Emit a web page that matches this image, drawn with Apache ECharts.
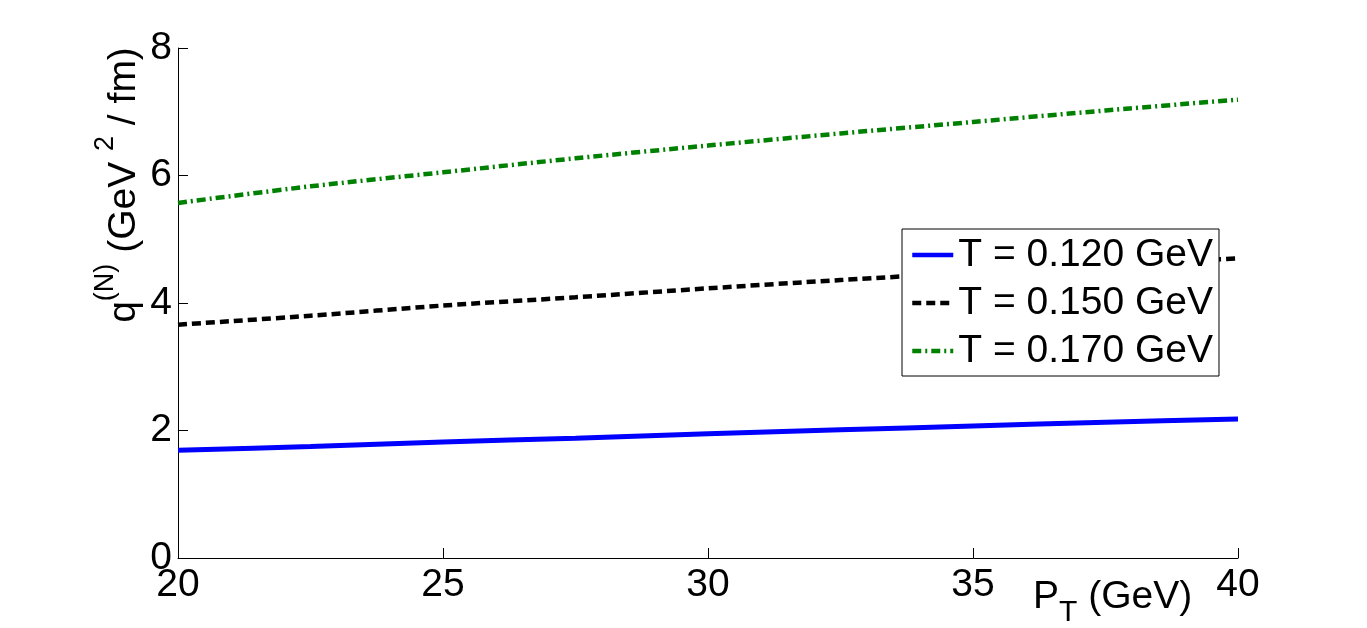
<!DOCTYPE html>
<html>
<head>
<meta charset="utf-8">
<script src="https://cdn.jsdelivr.net/npm/echarts@6/dist/echarts.min.js"></script>
<style>
  html, body { margin: 0; padding: 0; background: #fff; }
  #main { width: 1367px; height: 628px; }
</style>
</head>
<body>
<div id="main"></div>
<script>
// P_T values (GeV) where the curves are sampled
const pT = [20, 22.5, 25, 27.5, 30, 32.5, 35, 37.5, 40];
// q^(N) values for each temperature
const q120 = [1.69, 1.75, 1.82, 1.88, 1.95, 2.01, 2.07, 2.13, 2.18];
const q150 = [3.66, 3.80, 3.96, 4.09, 4.23, 4.36, 4.48, 4.60, 4.70];
const q170 = [5.57, 5.83, 6.05, 6.27, 6.47, 6.66, 6.84, 7.02, 7.19];
const names = ['T = 0.120 GeV', 'T = 0.150 GeV', 'T = 0.170 GeV'];
const xTicks = [20, 25, 30, 35, 40];
const yTicks = [0, 2, 4, 6, 8];

const font = 'Liberation Sans, Arial, sans-serif';

function pairs(ys) {
  return pT.map(function (x, i) { return [x, ys[i]]; });
}

let myChart = echarts.init(document.getElementById('main'));
myChart.setOption({
  animation: false,
  backgroundColor: '#fff',
  textStyle: { fontFamily: font },
  grid: { left: 178, right: 129, top: 48, bottom: 70, containLabel: false },
  xAxis: {
    type: 'value',
    min: xTicks[0],
    max: xTicks[xTicks.length - 1],
    interval: xTicks[1] - xTicks[0],
    axisLine: { lineStyle: { color: '#000', width: 1 } },
    axisTick: { inside: true, length: 10, lineStyle: { color: '#000' } },
    splitLine: { show: false },
    axisLabel: { color: '#000', fontSize: 39, fontFamily: font, margin: 8 }
  },
  yAxis: {
    type: 'value',
    min: yTicks[0],
    max: yTicks[yTicks.length - 1],
    interval: yTicks[1] - yTicks[0],
    axisLine: { show: true, lineStyle: { color: '#000', width: 1 } },
    axisTick: { show: true, inside: true, length: 10, lineStyle: { color: '#000' } },
    splitLine: { show: false },
    axisLabel: { color: '#000', fontSize: 39, fontFamily: font, margin: 6 }
  },
  legend: {
    orient: 'vertical',
    left: 902,
    top: 229,
    padding: [6, 6, 5, 8],
    itemWidth: 41,
    itemHeight: 20,
    itemGap: 8,
    borderColor: '#000',
    borderWidth: 1,
    borderRadius: 0,
    backgroundColor: '#fff',
    itemStyle: { color: 'transparent', borderWidth: 0, opacity: 0 },
    lineStyle: { width: 4.5 },
    textStyle: { color: '#000', fontSize: 39, fontFamily: font, lineHeight: 40 },
    data: names
  },
  graphic: [
    {
      type: 'text',
      x: 118,
      y: 185,
      rotation: Math.PI / 2,
      style: {
        text: '{m|q}{s|(N)}{m| (GeV }{s|2}{m| / fm)}',
        align: 'center',
        verticalAlign: 'middle',
        fill: '#000',
        rich: {
          m: { fontSize: 39, fontFamily: font, lineHeight: 52, verticalAlign: 'bottom' },
          s: { fontSize: 27, fontFamily: font, lineHeight: 27, verticalAlign: 'top' }
        }
      }
    },
    {
      type: 'text',
      x: 1033,
      y: 578,
      style: {
        text: '{m|P}{s|T}{m| (GeV)}',
        align: 'left',
        verticalAlign: 'top',
        fill: '#000',
        rich: {
          m: { fontSize: 39, fontFamily: font, lineHeight: 50, verticalAlign: 'top' },
          s: { fontSize: 30, fontFamily: font, lineHeight: 30, verticalAlign: 'bottom' }
        }
      }
    }
  ],
  series: [
    {
      name: names[0],
      type: 'line',
      data: pairs(q120),
      smooth: 0.3,
      symbol: 'none',
      lineStyle: { color: '#0000ff', width: 5, type: 'solid' },
      itemStyle: { color: '#0000ff' }
    },
    {
      name: names[1],
      type: 'line',
      data: pairs(q150),
      smooth: 0.3,
      symbol: 'none',
      lineStyle: { color: '#000000', width: 4.5, type: [9, 5] },
      itemStyle: { color: '#000000' }
    },
    {
      name: names[2],
      type: 'line',
      data: pairs(q170),
      smooth: 0.3,
      symbol: 'none',
      lineStyle: { color: '#008000', width: 4.5, type: [9, 4, 2, 4] },
      itemStyle: { color: '#008000' }
    }
  ]
});
</script>
</body>
</html>
